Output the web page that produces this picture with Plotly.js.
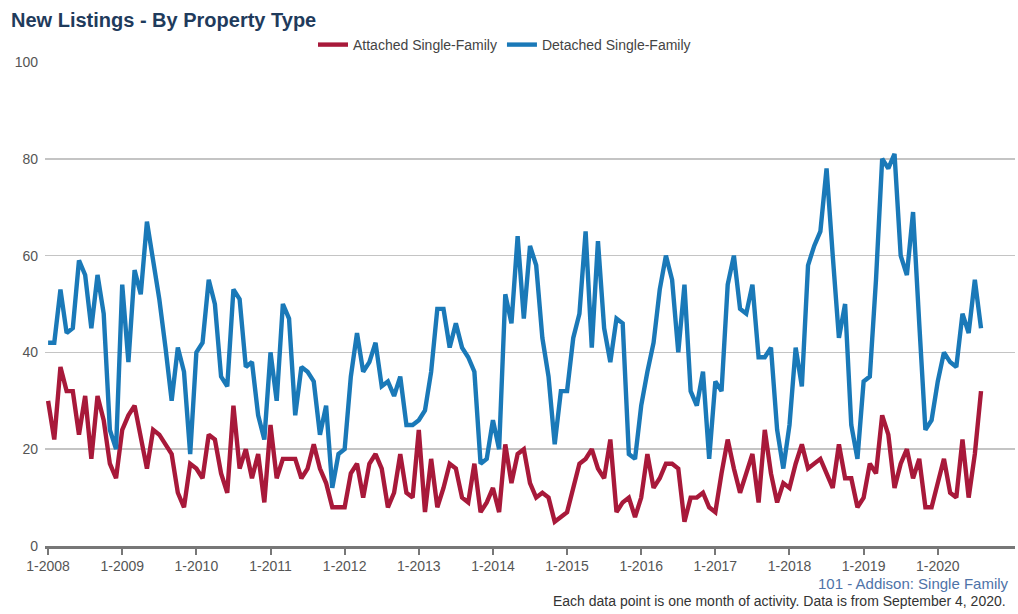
<!DOCTYPE html>
<html>
<head>
<meta charset="utf-8">
<script src="https://cdn.plot.ly/plotly-3.0.1.min.js"></script>
<style>
  html, body { margin: 0; padding: 0; background: #fff; }
  #chart { width: 1018px; height: 614px; }
</style>
</head>
<body>
<div id="chart"></div>
<script>
// ---- Data (monthly, Jan 2008 – Aug 2020) ----
const startYear = 2008;
const monthCount = 152;

const detached = [
  42,42,53,44,45,59,56,45,56,48,24,20,
  54,38,57,52,67,59,51,41,30,41,36,19,
  40,42,55,50,35,33,53,51,37,38,27,22,
  40,30,50,47,27,37,36,34,23,29,12,19,
  20,35,44,36,38,42,33,34,31,35,25,25,
  26,28,36,49,49,41,46,41,39,36,17,18,
  26,20,52,46,64,47,62,58,43,35,21,32,
  32,43,48,65,41,63,45,38,47,46,19,18,
  29,36,42,53,60,55,40,54,32,29,36,18,
  34,32,54,60,49,48,54,39,39,41,24,16,
  25,41,33,58,62,65,78,60,43,50,25,18,
  34,35,55,80,78,81,60,56,69,46,24,26,
  34,40,38,37,48,44,55,45
];

const attached = [
  30,22,37,32,32,23,31,18,31,26,17,14,
  24,27,29,23,16,24,23,21,19,11,8,17,
  16,14,23,22,15,11,29,16,20,14,19,9,
  25,14,18,18,18,14,16,21,16,13,8,8,
  8,15,17,10,17,19,16,8,11,19,11,10,
  24,7,18,8,12,17,16,10,9,17,7,9,
  12,7,21,13,19,20,13,10,11,10,5,6,
  7,12,17,18,20,16,14,22,7,9,10,6,
  10,19,12,14,17,17,16,5,10,10,11,8,
  7,15,22,16,11,15,19,9,24,15,9,13,
  12,17,21,16,17,18,15,12,21,14,14,8,
  10,17,15,27,23,12,17,20,14,18,8,8,
  13,18,11,10,22,10,19,32
];

const tickLabels = ["1-2008","1-2009","1-2010","1-2011","1-2012","1-2013","1-2014",
                    "1-2015","1-2016","1-2017","1-2018","1-2019","1-2020"];
const yTicks = [0,20,40,60,80,100];

const seriesNames = ["Attached Single-Family", "Detached Single-Family"];
const chartTitle = "New Listings - By Property Type";
const footerArea = "101 - Addison: Single Family";
const footerNote = "Each data point is one month of activity. Data is from September 4, 2020.";

// month category labels "M-YYYY"
const months = [];
for (let i = 0; i < monthCount; i++) {
  months.push(((i % 12) + 1) + "-" + (startYear + Math.floor(i / 12)));
}

const FONT = "'Liberation Sans', Arial, sans-serif";

const traces = [
  {
    x: months, y: attached, name: seriesNames[0], type: "scatter", mode: "lines",
    line: { color: "#A8193A", width: 4.4 }
  },
  {
    x: months, y: detached, name: seriesNames[1], type: "scatter", mode: "lines",
    line: { color: "#1A79B8", width: 4.4 }
  }
];

const layout = {
  width: 1018, height: 614,
  margin: { l: 45, r: 3, t: 62, b: 68 },
  paper_bgcolor: "#fff", plot_bgcolor: "#fff",
  font: { family: FONT, color: "#555", size: 14 },
  title: {
    text: "<b>" + chartTitle + "</b>",
    font: { family: FONT, size: 20, color: "#1F3B5C" },
    xref: "container", x: 11 / 1018, xanchor: "left",
    yref: "container", y: 1 - 20 / 614, yanchor: "middle"
  },
  showlegend: true,
  legend: {
    orientation: "h",
    xref: "container", x: 313 / 1018, xanchor: "left",
    yref: "container", y: 1 - 45 / 614, yanchor: "middle",
    font: { family: FONT, size: 14, color: "#444" },
    itemwidth: 30, tracegroupgap: 0,
    bgcolor: "rgba(0,0,0,0)"
  },
  xaxis: {
    type: "category",
    range: [-0.5, 156.5],
    tickvals: tickLabels, ticktext: tickLabels,
    showgrid: false, zeroline: false,
    showline: true, linecolor: "#777", linewidth: 2.5,
    ticks: "outside", ticklen: 6, tickwidth: 2, tickcolor: "#777",
    tickfont: { family: FONT, size: 14, color: "#555" },
    fixedrange: true
  },
  yaxis: {
    range: [0, 100],
    tickvals: yTicks,
    showgrid: true, gridcolor: "#C4C4C4", gridwidth: 1.5,
    zeroline: false, showline: false, ticks: "",
    ticklabelstandoff: 6,
    tickfont: { family: FONT, size: 14, color: "#555" },
    fixedrange: true
  },
  annotations: [
    {
      text: footerArea, xref: "paper", x: 0.9955, xanchor: "right",
      yref: "paper", y: (546 - 583) / 484, yanchor: "middle",
      showarrow: false, font: { family: FONT, size: 15, color: "#4E73A8" }
    },
    {
      text: footerNote, xref: "paper", x: 0.9925, xanchor: "right",
      yref: "paper", y: (546 - 601) / 484, yanchor: "middle",
      showarrow: false, font: { family: FONT, size: 14, color: "#333" }
    }
  ]
};

Plotly.newPlot("chart", traces, layout, { displayModeBar: false, staticPlot: true });
</script>
</body>
</html>
